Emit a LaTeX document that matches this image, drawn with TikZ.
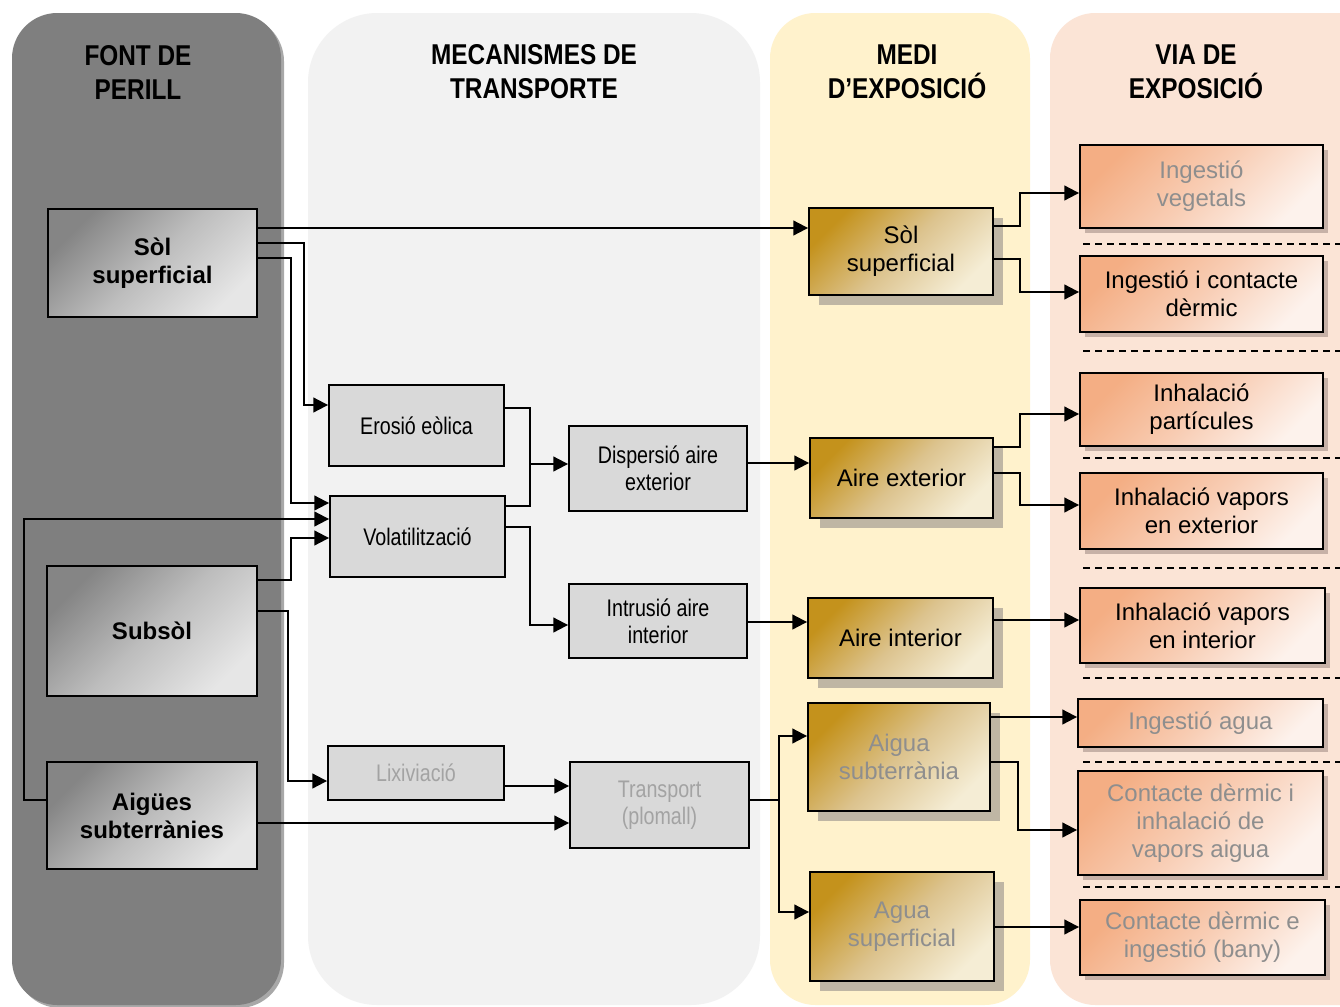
\documentclass[tikz,border=0pt]{standalone}
\usepackage{fontspec}
\setmainfont{Liberation Sans}
\newfontfamily\narrowsf[FakeStretch=0.82]{Liberation Sans}
\newfontfamily\titlesf[FakeStretch=0.85]{Liberation Sans}
\usetikzlibrary{arrows.meta,shadows}
\definecolor{srcpanel}{HTML}{7F7F7F}
\definecolor{srcedge}{HTML}{A8A8A8}
\definecolor{trnpanel}{HTML}{F2F2F2}
\definecolor{medpanel}{HTML}{FFF2CC}
\definecolor{viapanel}{HTML}{FBE4D6}
\definecolor{srcdark}{HTML}{858585}
\definecolor{srcmid}{HTML}{BDBDBD}
\definecolor{srclight}{HTML}{E6E6E6}
\definecolor{trnbox}{HTML}{D9D9D9}
\definecolor{meddark}{HTML}{C4921C}
\definecolor{medmid}{HTML}{DCC38E}
\definecolor{medlight}{HTML}{F5EDD5}
\definecolor{medshadow}{HTML}{BFB6A4}
\definecolor{viadark}{HTML}{F4AE84}
\definecolor{viamid}{HTML}{F8CDB4}
\definecolor{vialight}{HTML}{FDF2EC}
\definecolor{viashadow}{HTML}{C7B1A7}
\definecolor{faded}{HTML}{8E8E8E}
\definecolor{fadedlt}{HTML}{A3A3A3}

\begin{document}
\begin{tikzpicture}[x=0.75pt,y=-0.75pt,
  title/.style={font=\titlesf\bfseries\fontsize{21.5}{25.5}\selectfont,align=center},
  srcbox/.style={draw=black,line width=1.4pt,inner sep=0pt,align=center,
    top color=srcdark,bottom color=srclight,middle color=srcmid,shading angle=45,
    font=\bfseries\fontsize{18}{21}\selectfont},
  trnbox/.style={draw=black,line width=1.4pt,fill=trnbox,inner sep=0pt,align=center,
    font=\narrowsf\fontsize{18}{20.5}\selectfont},
  medbox/.style={draw=black,line width=1.4pt,inner sep=0pt,align=center,
    top color=meddark,bottom color=medlight,middle color=medmid,shading angle=45,
    drop shadow={shadow xshift=7.5pt,shadow yshift=-7.5pt,fill=medshadow,opacity=1},
    font=\fontsize{18}{21}\selectfont},
  viabox/.style={draw=black,line width=1.4pt,inner sep=0pt,align=center,
    top color=viadark,bottom color=vialight,middle color=viamid,shading angle=45,
    drop shadow={shadow xshift=3.5pt,shadow yshift=-4pt,fill=viashadow,opacity=1},
    font=\fontsize{18}{21}\selectfont},
  conn/.style={line width=1.5pt,-{Triangle[length=11pt,width=11pt]}},
  link/.style={line width=1.5pt},
  sep/.style={line width=1.1pt,dash pattern=on 5.5pt off 3.5pt}]
\useasboundingbox (0,0) rectangle (1340,1007);
\fill[white] (0,0) rectangle (1340,1007);
\clip (0,0) rectangle (1340,1007);

\fill[srcedge,rounded corners=34pt] (15,16) rectangle (284,1008);
\fill[srcpanel,rounded corners=34pt] (12,13) rectangle (281,1005);
\fill[trnpanel,rounded corners=52pt] (308,13) rectangle (760,1005);
\fill[medpanel,rounded corners=34pt] (770,13) rectangle (1030,1005);
\fill[viapanel,rounded corners=34pt] (1050,13) rectangle (1400,1005);

\node[title] (t1) at (138,72) {FONT DE\\PERILL};
\node[title] (t2) at (534,72) {MECANISMES DE\\TRANSPORTE};
\node[title] (t3) at (907,72) {MEDI\\D’EXPOSICIÓ};
\node[title] (t4) at (1196,72) {VIA DE\\EXPOSICIÓ};

\node[srcbox,minimum width=156.75pt,minimum height=81pt] (sol) at (152.5,263) {Sòl\\superficial};
\node[srcbox,minimum width=157.5pt,minimum height=97.5pt] (subsol) at (152,631) {Subsòl};
\node[srcbox,minimum width=157.5pt,minimum height=80.25pt] (aigues) at (152,815.5) {Aigües\\subterrànies};

\node[trnbox,minimum width=131.25pt,minimum height=60.75pt] (erosio) at (416.5,425.5) {Erosió eòlica};
\node[trnbox,minimum width=131.25pt,minimum height=60.75pt] (volat) at (417.5,536.5) {Volatilització};
\node[trnbox,minimum width=133.5pt,minimum height=63.75pt] (disp) at (658,468.5) {Dispersió aire\\exterior};
\node[trnbox,minimum width=133.5pt,minimum height=55.5pt] (intrus) at (658,621) {Intrusió aire\\interior};
\node[trnbox,text=fadedlt,minimum width=132pt,minimum height=40.5pt] (lixiv) at (416,773) {Lixiviació};
\node[trnbox,text=fadedlt,minimum width=134.25pt,minimum height=64.5pt] (transp) at (659.5,805) {Transport\\(plomall)};

\node[medbox,minimum width=138pt,minimum height=65.25pt] (msol) at (901,251.5) {Sòl\\superficial};
\node[medbox,minimum width=137.25pt,minimum height=60pt] (aext) at (901.5,478) {Aire exterior};
\node[medbox,minimum width=138.75pt,minimum height=60pt] (aint) at (900.5,638) {Aire interior};
\node[medbox,text=faded,minimum width=136.5pt,minimum height=81pt] (asub) at (899,757) {Aigua\\subterrània};
\node[medbox,text=faded,minimum width=138pt,minimum height=81.75pt] (asup) at (902,926.5) {Agua\\superficial};

\node[viabox,text=faded,minimum width=182.25pt,minimum height=62.25pt] (iveg) at (1201.5,186.5) {Ingestió\\vegetals};
\node[viabox,minimum width=182.25pt,minimum height=57pt] (icont) at (1201.5,294) {Ingestió i contacte\\dèrmic};
\node[viabox,minimum width=182.25pt,minimum height=54.75pt] (ipart) at (1201.5,409.5) {Inhalació\\partícules};
\node[viabox,minimum width=182.25pt,minimum height=57pt] (ivext) at (1201.5,511) {Inhalació vapors\\en exterior};
\node[viabox,minimum width=183.75pt,minimum height=56.25pt] (ivint) at (1202.5,625.5) {Inhalació vapors\\en interior};
\node[viabox,text=faded,minimum width=183.75pt,minimum height=36pt] (iagua) at (1200.5,723) {Ingestió agua};
\node[viabox,text=faded,minimum width=183.75pt,minimum height=78pt] (cinh) at (1200.5,823) {Contacte dèrmic i\\inhalació de\\vapors aigua};
\node[viabox,text=faded,minimum width=183.75pt,minimum height=56.25pt] (cbany) at (1202.5,937.5) {Contacte dèrmic e\\ingestió (bany)};

\draw[sep] (1083,244) -- (1340,244);
\draw[sep] (1083,351) -- (1340,351);
\draw[sep] (1083,458) -- (1340,458);
\draw[sep] (1083,568) -- (1340,568);
\draw[sep] (1083,678) -- (1340,678);
\draw[sep] (1083,762) -- (1340,762);
\draw[sep] (1083,887) -- (1340,887);

\draw[conn] (sol.east |- 0,228) -- (msol.west |- 0,228);
\draw[conn] (sol.east |- 0,243) -- (304,243) |- (erosio.west |- 0,405);
\draw[conn] (sol.east |- 0,258) -- (291,258) |- (volat.west |- 0,503);
\draw[conn] (aigues.west |- 0,800) -- (24,800) |- (volat.west |- 0,519);
\draw[conn] (subsol.east |- 0,580) -- (291,580) |- (volat.west |- 0,538);
\draw[conn] (subsol.east |- 0,611) -- (288,611) |- (lixiv.west |- 0,781);
\draw[conn] (erosio.east |- 0,408) -- (530,408) |- (disp.west |- 0,464);
\draw[link] (volat.east |- 0,506) -- (530,506) -- (530,464);
\draw[conn] (volat.east |- 0,527) -- (530,527) |- (intrus.west |- 0,625);
\draw[conn] (disp.east |- 0,463) -- (aext.west |- 0,463);
\draw[conn] (intrus.east |- 0,622) -- (aint.west |- 0,622);
\draw[conn] (lixiv.east |- 0,786) -- (transp.west |- 0,786);
\draw[conn] (aigues.east |- 0,823) -- (transp.west |- 0,823);
\draw[link] (transp.east |- 0,800) -- (779,800);
\draw[conn] (779,800) |- (asub.west |- 0,736);
\draw[conn] (779,800) |- (asup.west |- 0,912);

\draw[conn] (msol.east |- 0,226) -- (1020,226) |- (iveg.west |- 0,193);
\draw[conn] (msol.east |- 0,259) -- (1020,259) |- (icont.west |- 0,292);
\draw[conn] (aext.east |- 0,447) -- (1020,447) |- (ipart.west |- 0,414);
\draw[conn] (aext.east |- 0,473) -- (1020,473) |- (ivext.west |- 0,505);
\draw[conn] (aint.east |- 0,620) -- (ivint.west |- 0,620);
\draw[conn] (asub.east |- 0,717) -- (iagua.west |- 0,717);
\draw[conn] (asub.east |- 0,762) -- (1018,762) |- (cinh.west |- 0,830);
\draw[conn] (asup.east |- 0,927) -- (cbany.west |- 0,927);
\end{tikzpicture}
\end{document}
